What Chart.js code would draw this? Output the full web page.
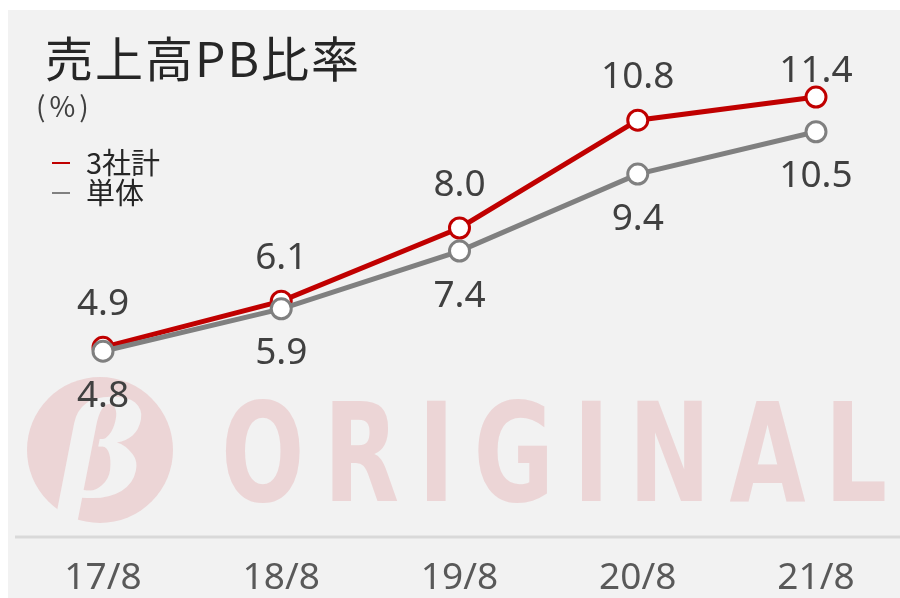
<!DOCTYPE html>
<html>
<head>
<meta charset="utf-8">
<script src="https://cdn.jsdelivr.net/npm/chart.js@4.4.0/dist/chart.umd.min.js"></script>
<style>
  body { margin: 0; background: #fff; }
  #wrap { width: 900px; height: 598px; position: relative; }
</style>
</head>
<body>
<div id="wrap"><canvas id="pbChart"></canvas></div>
<script>
const periods = ['17/8', '18/8', '19/8', '20/8', '21/8'];
const total3 = [4.9, 6.1, 8.0, 10.8, 11.4];
const single = [4.8, 5.9, 7.4, 9.4, 10.5];
const titleText = '売上高PB比率';
const unitText = '(%)';

const labelFont = "'Noto Sans', 'DejaVu Sans', sans-serif";
const cjkFont = "'Noto Sans CJK JP', 'Noto Sans', sans-serif";

// background panel + watermark + base line
const panelPlugin = {
  id: 'panel',
  beforeDraw(chart) {
    const ctx = chart.ctx;
    ctx.save();
    ctx.fillStyle = '#f2f2f2';
    ctx.fillRect(8, 10, 892, 588);

    // watermark logo
    ctx.fillStyle = '#ecd5d6';
    ctx.beginPath();
    ctx.ellipse(100, 450, 73, 73, 0, 0, Math.PI * 2);
    ctx.fill();
    ctx.fillStyle = '#f2f2f2';
    ctx.font = "italic bold 130px 'DejaVu Serif', serif";
    ctx.textAlign = 'center';
    ctx.textBaseline = 'middle';
    ctx.fillText('β', 102, 462);

    ctx.fillStyle = '#ecd5d6';
    ctx.font = "bold 138px 'Liberation Sans Narrow', 'DejaVu Sans Condensed', sans-serif";
    ctx.textAlign = 'left';
    ctx.textBaseline = 'alphabetic';
    ctx.letterSpacing = '24px';
    const w = ctx.measureText('ORIGINAL').width - 24;
    ctx.translate(221, 501);
    ctx.scale(666 / w, 1);
    ctx.fillText('ORIGINAL', 0, 0);
    ctx.restore();

    ctx.save();
    ctx.strokeStyle = '#d9d9d9';
    ctx.lineWidth = 3;
    ctx.beginPath();
    ctx.moveTo(15, 537);
    ctx.lineTo(900, 537);
    ctx.stroke();
    ctx.restore();
  }
};

// value labels: 3社計 above, 単体 below
const valueLabels = {
  id: 'valueLabels',
  afterDatasetsDraw(chart) {
    const ctx = chart.ctx;
    ctx.save();
    ctx.font = '37px ' + labelFont;
    ctx.fillStyle = '#404040';
    ctx.textAlign = 'center';
    ctx.textBaseline = 'middle';
    chart.data.datasets.forEach((ds, i) => {
      const meta = chart.getDatasetMeta(i);
      meta.data.forEach((pt, j) => {
        const txt = ds.data[j].toFixed(1);
        let y = ds.labelPos === 'top' ? Math.max(pt.y - 43, 71) : pt.y + 45;
        ctx.fillText(txt, pt.x, y);
      });
    });
    ctx.restore();
  }
};

// title, unit and legend
const headPlugin = {
  id: 'head',
  afterDraw(chart) {
    const ctx = chart.ctx;
    ctx.save();
    ctx.fillStyle = '#262626';
    ctx.textAlign = 'left';
    ctx.textBaseline = 'middle';
    ctx.font = '48px ' + cjkFont;
    ctx.letterSpacing = '2px';
    ctx.fillText(titleText, 45, 59);
    ctx.fillStyle = '#404040';
    ctx.font = '28px ' + cjkFont;
    ctx.letterSpacing = '4px';
    ctx.fillText(unitText, 36, 106);
    ctx.letterSpacing = '0px';

    ctx.font = '29px ' + cjkFont;
    chart.data.datasets.forEach((ds, i) => {
      const y = 163 + i * 30;
      ctx.strokeStyle = ds.borderColor;
      ctx.lineWidth = 2;
      ctx.beginPath();
      ctx.moveTo(52, y);
      ctx.lineTo(70, y);
      ctx.stroke();
      ctx.fillStyle = '#262626';
      ctx.fillText(ds.label, 86, y);
    });
    ctx.restore();
  }
};

const config = {
  type: 'line',
  data: {
    labels: periods,
    datasets: [
      {
        label: '3社計',
        data: total3,
        borderColor: '#c00000',
        borderWidth: 5,
        pointRadius: 10,
        pointBorderWidth: 3,
        pointBackgroundColor: '#ffffff',
        pointBorderColor: '#c00000',
        labelPos: 'top',
        order: 2
      },
      {
        label: '単体',
        data: single,
        borderColor: '#808080',
        borderWidth: 5,
        pointRadius: 10,
        pointBorderWidth: 3,
        pointBackgroundColor: '#ffffff',
        pointBorderColor: '#808080',
        labelPos: 'bottom',
        order: 1
      }
    ]
  },
  options: {
    responsive: true,
    maintainAspectRatio: false,
    animation: false,
    layout: { padding: { left: 103, right: 84, top: 74, bottom: 0 } },
    plugins: {
      legend: { display: false },
      tooltip: { enabled: false }
    },
    scales: {
      x: {
        offset: false,
        grid: { display: false, drawTicks: false },
        border: { display: false },
        afterFit(scale) { scale.height = 62; },
        ticks: {
          padding: 20,
          color: '#595959',
          font: { size: 37, family: labelFont }
        }
      },
      y: {
        display: false,
        min: 0,
        max: 12
      }
    }
  },
  plugins: [panelPlugin, valueLabels, headPlugin]
};

let pbChart = new Chart(document.getElementById('pbChart'), config);
</script>
</body>
</html>
